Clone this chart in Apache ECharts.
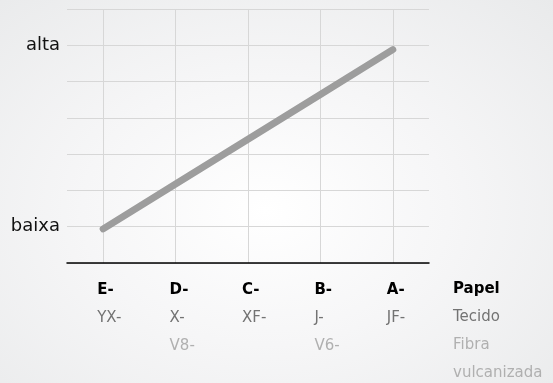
<!DOCTYPE html>
<html>
<head>
<meta charset="utf-8">
<script src="https://cdn.jsdelivr.net/npm/echarts@6/dist/echarts.min.js"></script>
<style>
  html, body { margin: 0; padding: 0; }
  body {
    width: 553px; height: 383px; overflow: hidden;
    background: radial-gradient(ellipse at 48% 55%, #ffffff 0%, #f6f6f7 45%, #e9eaeb 100%);
  }
  #chart { width: 553px; height: 383px; }
</style>
</head>
<body>
<div id="chart"></div>
<script>
// categories: bold code, second-row code, third-row code
var codesTop = ['E-', 'D-', 'C-', 'B-', 'A-'];
var codesMid = ['YX-', 'X-', 'XF-', 'J-', 'JF-'];
var codesLow = ['', 'V8-', '', 'V6-', ''];
// line values (y scale 0..7)
var lineValues = [0.94, 2.175, 3.41, 4.645, 5.88];
// y tick labels, index = tick value
var yTickLabels = ['', 'baixa', '', '', '', '', 'alta', ''];
// legend of the material rows
var rowNames = ['Papel', 'Tecido', 'Fibra', 'vulcanizada'];

var chart = echarts.init(document.getElementById('chart'));

var labelFont = '"DejaVu Sans", sans-serif';
var cBold = '#000000', cMid = '#737373', cLow = '#b0b0b0';

// axis label rich styles use color, graphic text rich styles use fill
var rowStyles = {
  b: { fontSize: 15, fontWeight: 'bold', color: cBold, lineHeight: 28, fontFamily: labelFont },
  m: { fontSize: 15, color: cMid, lineHeight: 28, fontFamily: labelFont },
  l: { fontSize: 15, color: cLow, lineHeight: 28, fontFamily: labelFont }
};
var legendStyles = {
  b: { fontSize: 15, fontWeight: 'bold', fill: cBold, lineHeight: 28, fontFamily: labelFont },
  m: { fontSize: 15, fill: cMid, lineHeight: 28, fontFamily: labelFont },
  l: { fontSize: 15, fill: cLow, lineHeight: 28, fontFamily: labelFont }
};

chart.setOption({
  backgroundColor: 'transparent',
  animation: false,
  grid: { left: 67, right: 124, top: 9, bottom: 120, containLabel: false },
  xAxis: {
    type: 'category',
    data: codesTop,
    boundaryGap: true,
    axisLine: { show: true, lineStyle: { color: '#000', width: 1.5 } },
    axisTick: { show: false },
    splitLine: { show: true, alignWithLabel: true, lineStyle: { color: '#d7d7d7', width: 1 } },
    axisLabel: {
      margin: 13,
      align: 'left',
      verticalAlign: 'top',
      padding: [0, 0, 0, -6],
      formatter: function (v, i) {
        var s = '{b|' + codesTop[i] + '}\n{m|' + (codesMid[i] || ' ') + '}';
        if (codesLow[i]) s += '\n{l|' + codesLow[i] + '}';
        return s;
      },
      rich: rowStyles
    }
  },
  yAxis: {
    type: 'value',
    min: 0, max: 7, interval: 1,
    axisLine: { show: false },
    axisTick: { show: false },
    splitLine: { show: true, lineStyle: { color: '#d7d7d7', width: 1 } },
    axisLabel: {
      margin: 7,
      fontSize: 18,
      color: '#111',
      fontFamily: labelFont,
      formatter: function (v) { return yTickLabels[v] || ''; }
    }
  },
  graphic: [{
    type: 'text',
    left: 453,
    top: 282,
    style: {
      text: '{b|' + rowNames[0] + '}\n{m|' + rowNames[1] + '}\n{l|' + rowNames[2] + '}\n{l|' + rowNames[3] + '}',
      rich: legendStyles
    }
  }],
  series: [{
    type: 'line',
    data: lineValues,
    symbol: 'none',
    lineStyle: { color: '#9d9d9d', width: 7, cap: 'round' }
  }]
});
</script>
</body>
</html>
